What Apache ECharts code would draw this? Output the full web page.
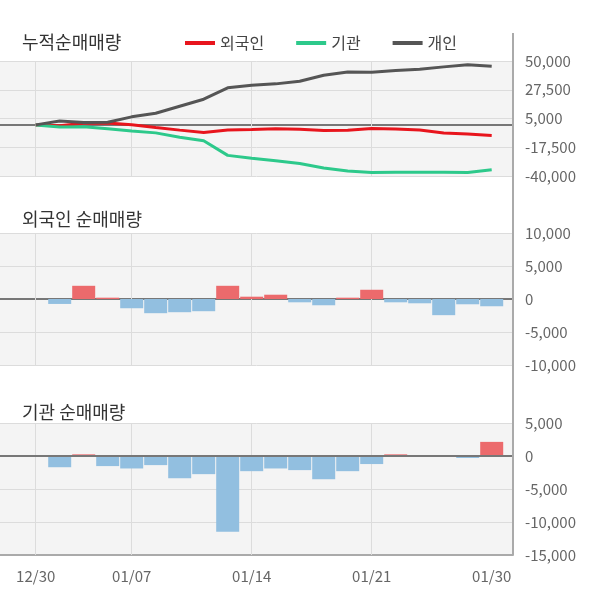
<!DOCTYPE html>
<html>
<head>
<meta charset="utf-8">
<script src="https://cdn.jsdelivr.net/npm/echarts@6/dist/echarts.min.js"></script>
<style>
html, body { margin: 0; padding: 0; background: #fff; }
#main { width: 600px; height: 604px; }
</style>
</head>
<body>
<div id="main"></div>
<script>
// 거래일 (12/30 ~ 01/30)
var dates = ['12/30', '01/02', '01/03', '01/06', '01/07', '01/08', '01/09', '01/10', '01/13', '01/14',
    '01/15', '01/16', '01/17', '01/20', '01/21', '01/22', '01/23', '01/28', '01/29', '01/30'];
var labelDays = [0, 4, 9, 14, 19];
var lineDays = [0, 4, 9, 14];

// 누적순매매량
var cumForeign = [0, -750, 1250, 1450, 50, -2100, -4100, -5950, -3950, -3600,
    -2950, -3450, -4400, -4200, -2800, -3300, -3950, -6400, -7200, -8300];
var cumInst = [0, -1700, -1450, -2980, -4870, -6250, -9620, -12370, -23850, -26150,
    -28040, -30180, -33700, -36000, -37220, -36970, -36970, -36970, -37270, -35130];
var cumPerson = [0, 3100, 1800, 2100, 6300, 9100, 14600, 20100, 29000, 31000,
    32100, 34200, 38900, 41400, 41200, 42500, 43600, 45400, 47000, 45900];

// 일별 순매매량
var netForeign = [null, -750, 2000, 200, -1400, -2150, -2000, -1850, 2000, 350,
    650, -500, -950, 200, 1400, -500, -650, -2450, -800, -1100];
var netInst = [null, -1700, 250, -1530, -1890, -1380, -3370, -2750, -11480, -2300,
    -1890, -2140, -3520, -2300, -1220, 250, 0, 0, -300, 2140];

var FONT = '"Noto Sans CJK KR", "Noto Sans", sans-serif';
var RED = '#e8151d', GREEN = '#2dc98b', DARK = '#555555';
var BAR_UP = '#ec6a6c', BAR_DOWN = '#92bfe0';
var X_MIN = -1.4875, X_MAX = 19.8875;

function pairs(arr) {
    return arr.map(function (v, i) { return [i, v]; });
}
function barData(arr) {
    var out = [];
    arr.forEach(function (v, i) {
        if (v === null) return;
        out.push({ value: [i, v], itemStyle: { color: v >= 0 ? BAR_UP : BAR_DOWN } });
    });
    return out;
}
// 세로 그리드선
function vLines() {
    return {
        silent: true, symbol: 'none', z: 1,
        label: { show: false },
        lineStyle: { color: '#dcdcdc', width: 1, type: 'solid' },
        data: lineDays.map(function (d) { return { xAxis: d }; })
    };
}
function fmt(v) { return echarts.format.addCommas(v); }

var myChart = echarts.init(document.getElementById('main'));

function xAxisFor(idx, bottom) {
    var ax = {
        type: 'value', gridIndex: idx, min: X_MIN, max: X_MAX,
        splitLine: { show: false }, axisTick: { show: false },
        axisLabel: { show: false },
        axisLine: { show: true, onZero: true, lineStyle: { color: '#777', width: 2 } }
    };
    if (bottom) {
        ax.axisLine = { show: true, onZero: false, lineStyle: { color: '#aaa', width: 2 } };
        ax.axisLabel = {
            show: true, customValues: labelDays, margin: 14,
            color: '#666', fontSize: 15, fontFamily: FONT,
            formatter: function (v) { return dates[Math.round(v)]; }
        };
    }
    return ax;
}
function yAxisFor(idx, min, max, interval) {
    return {
        type: 'value', gridIndex: idx, position: 'right',
        min: min, max: max, interval: interval,
        axisLine: { show: false }, axisTick: { show: false },
        splitLine: { lineStyle: { color: '#dcdcdc', width: 1 } },
        axisLabel: { color: '#666', fontSize: 15, fontFamily: FONT, margin: 12, formatter: fmt }
    };
}

var titleStyle = { fontSize: 18, fontWeight: 'normal', color: '#333', fontFamily: FONT };

var option = {
    animation: false,
    backgroundColor: '#fff',
    textStyle: { fontFamily: FONT },
    title: [
        { text: '누적순매매량', left: 17, top: 28, textStyle: titleStyle },
        { text: '외국인 순매매량', left: 17, top: 205, textStyle: titleStyle },
        { text: '기관 순매매량', left: 17, top: 398, textStyle: titleStyle }
    ],
    legend: {
        left: 180, top: 30, itemGap: 32, itemWidth: 30, itemHeight: 4, icon: 'rect',
        textStyle: { fontSize: 16, color: '#444', fontFamily: FONT },
        data: ['외국인', '기관', '개인']
    },
    graphic: [{
        type: 'line', z: 10,
        shape: { x1: 513, y1: 33, x2: 513, y2: 555 },
        style: { stroke: '#aaa', lineWidth: 2 }
    }],
    grid: [
        { left: 0, right: 87, top: 61, height: 115, show: true, backgroundColor: '#f4f4f4', borderWidth: 0 },
        { left: 0, right: 87, top: 233, height: 132, show: true, backgroundColor: '#f4f4f4', borderWidth: 0 },
        { left: 0, right: 87, top: 423, height: 132, show: true, backgroundColor: '#f4f4f4', borderWidth: 0 }
    ],
    xAxis: [xAxisFor(0, false), xAxisFor(1, false), xAxisFor(2, true)],
    yAxis: [
        yAxisFor(0, -40000, 50000, 22500),
        yAxisFor(1, -10000, 10000, 5000),
        yAxisFor(2, -15000, 5000, 5000)
    ],
    series: [
        {
            name: '외국인', type: 'line', xAxisIndex: 0, yAxisIndex: 0,
            data: pairs(cumForeign), showSymbol: false, symbol: 'none',
            lineStyle: { color: RED, width: 3 }, itemStyle: { color: RED },
            markLine: vLines()
        },
        {
            name: '기관', type: 'line', xAxisIndex: 0, yAxisIndex: 0,
            data: pairs(cumInst), showSymbol: false, symbol: 'none',
            lineStyle: { color: GREEN, width: 3 }, itemStyle: { color: GREEN }
        },
        {
            name: '개인', type: 'line', xAxisIndex: 0, yAxisIndex: 0,
            data: pairs(cumPerson), showSymbol: false, symbol: 'none',
            lineStyle: { color: DARK, width: 3 }, itemStyle: { color: DARK }
        },
        {
            name: '외국인 순매매', type: 'bar', xAxisIndex: 1, yAxisIndex: 1,
            barWidth: 23, data: barData(netForeign),
            markLine: vLines()
        },
        {
            name: '기관 순매매', type: 'bar', xAxisIndex: 2, yAxisIndex: 2,
            barWidth: 23, data: barData(netInst),
            markLine: vLines()
        },
        {
            name: 'zero', type: 'line', xAxisIndex: 2, yAxisIndex: 2, data: [],
            markLine: {
                silent: true, symbol: 'none', z: 6,
                label: { show: false },
                lineStyle: { color: '#777', width: 2, type: 'solid' },
                data: [{ yAxis: 0 }]
            }
        }
    ]
};

myChart.setOption(option);
</script>
</body>
</html>
